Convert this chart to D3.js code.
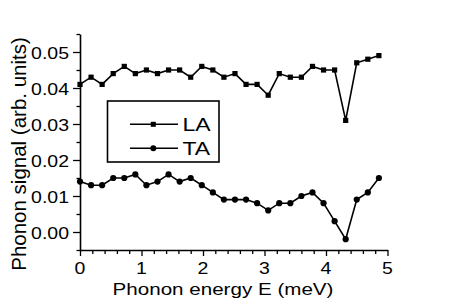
<!DOCTYPE html>
<html><head><meta charset="utf-8">
<script src="https://cdn.jsdelivr.net/npm/d3@7"></script>
<style>html,body{margin:0;padding:0;background:#fff;}svg{display:block;}</style>
</head><body>
<svg id="chart" width="450" height="300"></svg>
<script>
const energies = [0, 0.18, 0.36, 0.54, 0.72, 0.90, 1.08, 1.26, 1.44, 1.62, 1.80, 1.98, 2.16, 2.34,
  2.52, 2.70, 2.88, 3.06, 3.24, 3.42, 3.60, 3.78, 3.96, 4.14, 4.32, 4.50, 4.68, 4.86];
const laValues = [0.041, 0.043, 0.041, 0.044, 0.046, 0.044, 0.045, 0.044, 0.045, 0.045, 0.043, 0.046, 0.045, 0.043,
  0.044, 0.041, 0.041, 0.038, 0.044, 0.043, 0.043, 0.046, 0.045, 0.045, 0.031, 0.047, 0.048, 0.049];
const taValues = [0.014, 0.013, 0.013, 0.015, 0.015, 0.016, 0.013, 0.014, 0.016, 0.014, 0.015, 0.013, 0.011, 0.009,
  0.009, 0.009, 0.008, 0.006, 0.008, 0.008, 0.010, 0.011, 0.008, 0.003, -0.002, 0.009, 0.011, 0.015];
const xTicks = [0, 1, 2, 3, 4, 5];
const yTicks = [0.00, 0.01, 0.02, 0.03, 0.04, 0.05];
const seriesNames = ["LA", "TA"];
const xLabel = "Phonon energy E (meV)";
const yLabel = "Phonon signal (arb. units)";

(function () {
const svg = d3.select("#chart");
const font = "'Liberation Sans', Arial, sans-serif";
const mLeft = 80, mRight = 387.5, mTop = 34, mBottom = 250;
const x = d3.scaleLinear().domain([0, 5]).range([mLeft, mRight]);
const y = d3.scaleLinear().domain([-0.005, 0.055]).range([mBottom, mTop]);
const SX = 1, SY = 0.84;

const xMinor = d3.range(0, 5.0001, 0.2).filter(v => Math.abs(v - Math.round(v)) > 1e-6);
const yMinor = [-0.005, 0.005, 0.015, 0.025, 0.035, 0.045, 0.055];

const xAxisMajor = d3.axisBottom(x).tickValues(xTicks).tickSize(6).tickSizeOuter(0).tickFormat("");
const xAxisMinor = d3.axisBottom(x).tickValues(xMinor).tickSize(4).tickFormat("");
const yAxisMajor = d3.axisLeft(y).tickValues(yTicks).tickSize(7).tickSizeOuter(0).tickFormat("");
const yAxisMinor = d3.axisLeft(y).tickValues(yMinor).tickSize(3.5).tickFormat("");

function styleAxis(g) {
  g.selectAll("path").attr("stroke", "#000").attr("stroke-width", 1.6);
  g.selectAll("line").attr("stroke", "#000").attr("stroke-width", 1.3);
}
svg.append("g").attr("transform", `translate(0,${mBottom})`).call(xAxisMinor).call(g => g.select("path").remove()).call(styleAxis);
svg.append("g").attr("transform", `translate(0,${mBottom})`).call(xAxisMajor).call(styleAxis);
svg.append("g").attr("transform", `translate(${mLeft},0)`).call(yAxisMinor).call(g => g.select("path").remove()).call(styleAxis);
svg.append("g").attr("transform", `translate(${mLeft},0)`).call(yAxisMajor).call(styleAxis);

function addText(txt, px, py, size, anchor, rotate, sx, sy) {
  const g = svg.append("g").attr("transform", `translate(${px},${py}) rotate(${rotate || 0}) scale(${sx},${sy})`);
  g.append("text").text(txt).attr("x", 0).attr("y", 0)
    .attr("font-family", font).attr("font-size", size).attr("text-anchor", anchor).attr("fill", "#000");
}

xTicks.forEach(v => addText(d3.format("d")(v), x(v), 274, 19.5, "middle", 0, SX, SY));
yTicks.forEach(v => addText(d3.format(".2f")(v), 69, y(v) + 6.5, 19.5, "end", 0, SX, SY));
addText(xLabel, 223, 295, 20.6, "middle", 0, SX, SY);
addText(yLabel, 25.5, 154, 20.5, "middle", -90, 1, 1);

const line = d3.line().x((d, i) => x(energies[i])).y(d => y(d));
svg.append("path").datum(laValues).attr("d", line).attr("fill", "none").attr("stroke", "#000").attr("stroke-width", 1.6);
svg.append("path").datum(taValues).attr("d", line).attr("fill", "none").attr("stroke", "#000").attr("stroke-width", 1.6);

svg.append("g").selectAll("rect").data(laValues).join("rect")
  .attr("x", (d, i) => x(energies[i]) - 2.6).attr("y", d => y(d) - 2.6)
  .attr("width", 5.2).attr("height", 5.2).attr("fill", "#000");
svg.append("g").selectAll("circle").data(taValues).join("circle")
  .attr("cx", (d, i) => x(energies[i])).attr("cy", d => y(d)).attr("r", 3.1).attr("fill", "#000");

const lg = svg.append("g");
lg.append("rect").attr("x", 107.5).attr("y", 101).attr("width", 111.5).attr("height", 61)
  .attr("fill", "#fff").attr("stroke", "#000").attr("stroke-width", 1.6);
const rows = [124.3, 148.3];
seriesNames.forEach((name, k) => {
  const ry = rows[k];
  lg.append("line").attr("x1", 130).attr("x2", 178).attr("y1", ry).attr("y2", ry).attr("stroke", "#000").attr("stroke-width", 1.6);
  if (k === 0) lg.append("rect").attr("x", 153.3 - 2.5).attr("y", ry - 2.5).attr("width", 5).attr("height", 5).attr("fill", "#000");
  else lg.append("circle").attr("cx", 153.3).attr("cy", ry).attr("r", 3).attr("fill", "#000");
  addText(name, 182.5, ry + 6.8, 23, "start", 0, 1, 0.77);
});
})();
</script>
</body></html>
